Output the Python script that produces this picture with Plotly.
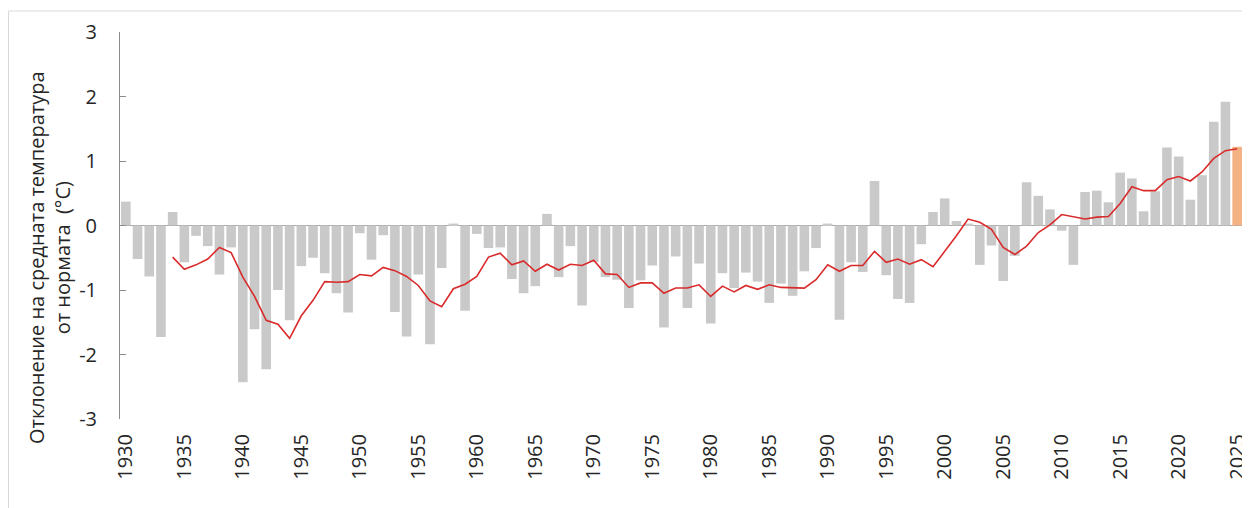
import plotly.graph_objects as go

years = list(range(1930, 2026))

anomaly = [
    0.37, -0.52, -0.79, -1.73, 0.21, -0.57, -0.16, -0.32, -0.76, -0.34,
    -2.43, -1.61, -2.23, -1.00, -1.47, -0.63, -0.50, -0.74, -1.05, -1.35,
    -0.12, -0.53, -0.15, -1.34, -1.72, -0.76, -1.84, -0.66, 0.03, -1.32,
    -0.13, -0.35, -0.34, -0.83, -1.05, -0.94, 0.18, -0.80, -0.32, -1.24,
    -0.57, -0.80, -0.84, -1.28, -0.85, -0.62, -1.58, -0.48, -1.28, -0.59,
    -1.52, -0.74, -0.97, -0.73, -0.87, -1.20, -0.90, -1.09, -0.71, -0.35,
    0.03, -1.46, -0.57, -0.72, 0.69, -0.77, -1.14, -1.20, -0.29, 0.21,
    0.42, 0.07, 0.03, -0.61, -0.31, -0.86, -0.47, 0.67, 0.46, 0.25,
    -0.08, -0.61, 0.52, 0.54, 0.36, 0.82, 0.73, 0.22, 0.53, 1.21,
    1.07, 0.40, 0.78, 1.61, 1.92, 1.22,
]

trend_years = list(range(1934, 2026))
trend = [
    -0.49, -0.68, -0.61, -0.52, -0.34, -0.42,
    -0.80, -1.10, -1.47, -1.53, -1.75, -1.40, -1.16, -0.87, -0.88, -0.87,
    -0.76, -0.78, -0.65, -0.70, -0.79, -0.93, -1.17, -1.26, -0.98, -0.91,
    -0.79, -0.49, -0.43, -0.61, -0.55, -0.71, -0.60, -0.69, -0.60, -0.62,
    -0.54, -0.75, -0.76, -0.96, -0.89, -0.89, -1.05, -0.97, -0.97, -0.92,
    -1.10, -0.94, -1.03, -0.93, -0.99, -0.92, -0.96, -0.97, -0.97, -0.84,
    -0.61, -0.71, -0.62, -0.62, -0.40, -0.57, -0.52, -0.60, -0.53, -0.64,
    -0.40, -0.16, 0.10, 0.05, -0.06, -0.34, -0.45, -0.32, -0.11, 0.01,
    0.17, 0.14, 0.10, 0.13, 0.14, 0.34, 0.60, 0.54, 0.54, 0.71,
    0.76, 0.69, 0.83, 1.04, 1.16, 1.19,
]

tick_years = list(range(1930, 2026, 5))
boundary_ticks = [y - 0.5 for y in range(1930, 2026, 5)]
y_ticks = [-3, -2, -1, 0, 1, 2, 3]
y_ticktext = ["-3", "-2", "-1", "0", "1", "2", "3"]
y_title = "Отклонение на средната температура<br>от нормата  (°C)"

bar_colors = ["#C9C9C9"] * (len(years) - 1) + ["#F4B183"]

FONT = "Open Sans"
TXT = "#262626"
AX = "#8C8C8C"

# the page adds an 8px body margin, so the figure is 8px smaller on each axis
W, H = 1242, 500
ML, MR, MT, MB = 112, 7, 24, 89
PW, PH = W - ML - MR, H - MT - MB

fig = go.Figure()
fig.add_trace(go.Bar(
    x=years, y=anomaly, marker=dict(color=bar_colors, line=dict(width=0)),
    width=0.82, showlegend=False,
))
fig.add_trace(go.Scatter(
    x=trend_years, y=trend, mode="lines",
    line=dict(color="#D92B2B", width=1.6), showlegend=False,
))

xr = [1929.5, 2025.5]
fig.update_layout(
    width=W, height=H,
    paper_bgcolor="white", plot_bgcolor="white",
    margin=dict(l=ML, r=MR, t=MT, b=MB, autoexpand=False),
    font=dict(family=FONT, size=20, color=TXT),
    xaxis=dict(
        range=xr, tickvals=tick_years, ticktext=[str(t) for t in tick_years],
        tickangle=-90, showgrid=False, showline=False, zeroline=False,
        ticks="", ticklabelstandoff=10, automargin=False,
        tickfont=dict(family=FONT, size=20, color=TXT),
    ),
    xaxis2=dict(
        range=xr, overlaying="x", anchor="free", position=0.5, side="bottom",
        showgrid=False, zeroline=False, showline=True, linecolor="#A6A6A6",
        linewidth=1, ticks="outside", ticklen=5, tickcolor="#A6A6A6",
        tickvals=boundary_ticks, showticklabels=False, automargin=False,
    ),
    yaxis=dict(
        range=[-3, 3], tickvals=y_ticks, ticktext=y_ticktext,
        showgrid=False, zeroline=True, zerolinecolor="#A6A6A6", zerolinewidth=1,
        showline=True, linecolor=AX,
        linewidth=1, ticks="inside", ticklen=6, tickcolor=AX,
        ticklabelstandoff=18, automargin=False,
        tickfont=dict(family=FONT, size=20, color=TXT),
    ),
    annotations=[dict(
        text=y_title, textangle=-90, showarrow=False,
        xref="paper", yref="paper",
        x=(41 - ML) / PW, y=1 - (250 - MT) / PH,
        xanchor="center", yanchor="middle",
        font=dict(family=FONT, size=20, color=TXT),
    )],
    shapes=[dict(
        type="rect", xref="paper", yref="paper",
        x0=(0.5 - ML) / PW, x1=1.05, y0=-0.5, y1=1 + (MT - 3) / PH,
        line=dict(color="#D9D9D9", width=1), fillcolor="rgba(0,0,0,0)",
        layer="below",
    )],
)

fig.write_html("out.html")
